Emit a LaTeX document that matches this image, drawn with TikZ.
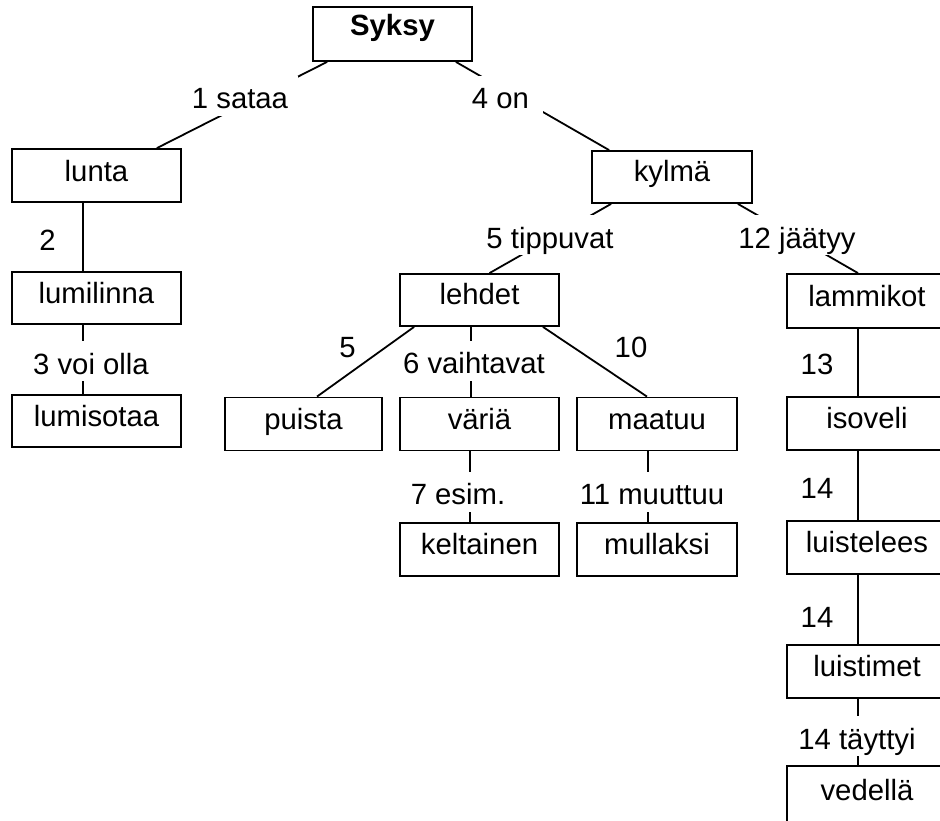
\documentclass[tikz,border=0pt]{standalone}
\usepackage{fontspec}
\setmainfont{Liberation Sans}
\begin{document}
\begin{tikzpicture}[x=1pt,y=-1pt,
  font=\fontsize{29.3}{35}\selectfont,
  line width=1.8pt,
  conceptbox/.style={draw, rectangle, inner sep=0pt, minimum height=53pt,
    text height=22pt, text depth=12pt},
  edgetext/.style={inner sep=0pt, text height=29pt, text depth=3pt},
  gaptext/.style={edgetext, fill=white, inner xsep=10pt, inner ysep=4pt},
  link/.style={line width=1.8pt}]
\clip (0,0) rectangle (940,821);
\fill[white] (0,0) rectangle (940,821);

% concept boxes
\node[conceptbox, minimum width=159pt, minimum height=54pt, text height=16pt] (syksy) at (392.5,34) {\bfseries Syksy};
\node[conceptbox, minimum width=169pt, text height=25pt] (lunta) at (96.5,175.5) {lunta};
\node[conceptbox, minimum width=169pt, minimum height=52pt] (lumilinna) at (96.5,298) {lumilinna};
\node[conceptbox, minimum width=169pt, minimum height=52pt] (lumisotaa) at (96.5,421) {lumisotaa};
\node[conceptbox, minimum width=160pt, minimum height=52pt] (kylma) at (672,177) {kylmä};
\node[conceptbox, minimum width=159pt, minimum height=52pt] (lehdet) at (479.5,300) {lehdet};
\node[conceptbox, minimum width=160pt, minimum height=54pt] (lammikot) at (867,301) {lammikot};
\node[conceptbox, minimum width=157pt] (puista) at (303.5,424) {puista};
\node[conceptbox, minimum width=159pt] (varia) at (479.5,424) {väriä};
\node[conceptbox, minimum width=160pt] (maatuu) at (657,424) {maatuu};
\node[conceptbox, minimum width=159pt] (keltainen) at (479.5,549.5) {keltainen};
\node[conceptbox, minimum width=160pt] (mullaksi) at (657,549.5) {mullaksi};
\node[conceptbox, minimum width=160pt] (isoveli) at (867,423.5) {isoveli};
\node[conceptbox, minimum width=160pt] (luistelees) at (867,547.5) {luistelees};
\node[conceptbox, minimum width=160pt] (luistimet) at (867,671.5) {luistimet};
\node[conceptbox, minimum width=160pt, minimum height=56pt, text height=22pt, text depth=10pt] (vedella) at (867,794) {vedellä};

% connectors
\draw[link] ([xshift=15pt]syksy.south west) -- ([xshift=-25pt]lunta.north east);
\draw[link] ([xshift=-17pt]syksy.south east) -- ([xshift=18pt]kylma.north west);
\draw[link] ([xshift=-13.5pt]lunta.south) -- ([xshift=-13.5pt]lumilinna.north);
\draw[link] ([xshift=-13.5pt]lumilinna.south) -- ([xshift=-13.5pt]lumisotaa.north);
\draw[link] ([xshift=20pt]kylma.south west) -- ([xshift=10pt]lehdet.north);
\draw[link] ([xshift=-15pt]kylma.south east) -- ([xshift=-9pt]lammikot.north);
\draw[link] ([xshift=15pt]lehdet.south west) -- ([xshift=13.5pt]puista.north);
\draw[link] ([xshift=-8.5pt]lehdet.south) -- ([xshift=-8.5pt]varia.north);
\draw[link] ([xshift=-17pt]lehdet.south east) -- ([xshift=-10pt]maatuu.north);
\draw[link] ([xshift=-9.5pt]varia.south) -- ([xshift=-9.5pt]keltainen.north);
\draw[link] ([xshift=-9pt]maatuu.south) -- ([xshift=-9pt]mullaksi.north);
\draw[link] ([xshift=-9pt]lammikot.south) -- ([xshift=-9pt]isoveli.north);
\draw[link] ([xshift=-9pt]isoveli.south) -- ([xshift=-9pt]luistelees.north);
\draw[link] ([xshift=-9pt]luistelees.south) -- ([xshift=-9pt]luistimet.north);
\draw[link] ([xshift=-9pt]luistimet.south) -- ([xshift=-9pt]vedella.north);

% connector labels
\node[gaptext] (l1) at (240,96) {1 sataa};
\node[gaptext, inner xsep=14pt] (l4) at (500.5,96) {4 on};
\node[edgetext] (l2) at (47.5,238) {2};
\node[gaptext] (l3) at (91,361) {3 voi olla};
\node[gaptext] (l5a) at (550,235.5) {5 tippuvat};
\node[gaptext] (l12) at (797,235.5) {12 jäätyy};
\node[edgetext] (l5b) at (347.5,344.5) {5};
\node[gaptext, inner xsep=2pt] (l6) at (474,360.5) {6 vaihtavat};
\node[edgetext] (l10) at (631,344.5) {10};
\node[gaptext, inner xsep=4pt] (l7) at (458,491.5) {7 esim.};
\node[gaptext, inner xsep=4pt] (l11) at (652,491.5) {11 muuttuu};
\node[edgetext] (l13) at (817,361.5) {13};
\node[edgetext] (l14a) at (817,485.5) {14};
\node[edgetext] (l14b) at (817,614.5) {14};
\node[gaptext, inner xsep=4pt] (l14c) at (857,736) {14 täyttyi};
\end{tikzpicture}
\end{document}
